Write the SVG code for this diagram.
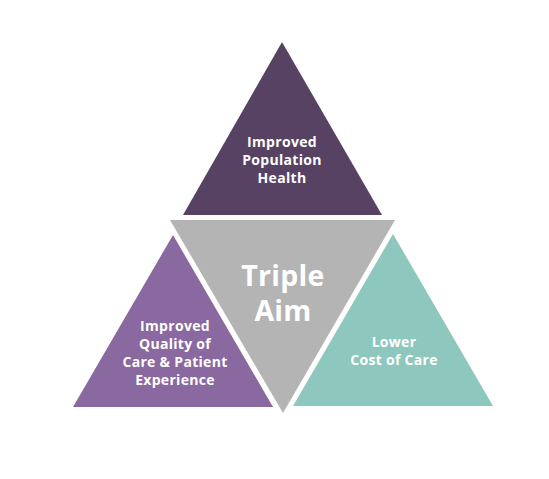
<svg xmlns="http://www.w3.org/2000/svg" width="549" height="479" viewBox="0 0 549 479">
<style>
.lbl{font-family:"Open Sans","Lato","Liberation Sans",sans-serif;font-weight:700;fill:#ffffff;text-anchor:middle;font-size:14px;letter-spacing:0.3px}
.big{font-size:28.5px;letter-spacing:0.3px}
</style>
<rect width="549" height="479" fill="#ffffff"/>
<g id="top">
<polygon points="282,42 183,215 382,215" fill="#574264"/>
<text class="lbl" x="282" y="147">Improved</text>
<text class="lbl" x="282" y="165">Population</text>
<text class="lbl" x="282" y="183">Health</text>
</g>
<g id="center">
<polygon points="170,220 395,220 283,413" fill="#b4b4b4"/>
<text class="lbl big" x="283" y="286">Triple</text>
<text class="lbl big" x="283" y="321">Aim</text>
</g>
<g id="left">
<polygon points="173,235 73,407 273,407" fill="#8a68a0"/>
<text class="lbl" x="175" y="331">Improved</text>
<text class="lbl" x="175" y="349">Quality of</text>
<text class="lbl" x="175" y="367">Care &amp; Patient</text>
<text class="lbl" x="175" y="385">Experience</text>
</g>
<g id="right">
<polygon points="393,234 293,406 493,406" fill="#8dc7bd"/>
<text class="lbl" x="394" y="347">Lower</text>
<text class="lbl" x="394" y="365">Cost of Care</text>
</g>
<g id="connectors"></g>
</svg>
